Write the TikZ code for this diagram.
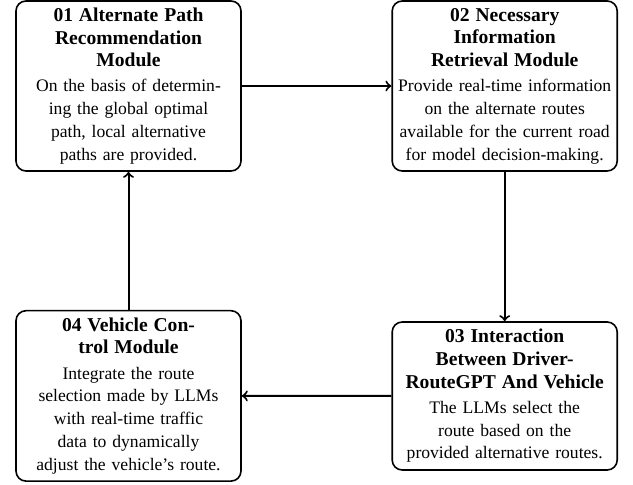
\documentclass[tikz,border=0pt]{standalone}
\usepackage{fontspec}
\setmainfont{Liberation Serif}
\newcommand{\bodysize}{\fontsize{8.8}{11.4}\selectfont}
\newcommand{\ttlsize}{\fontsize{9.8}{11.3}\selectfont\bfseries}
\begin{document}
\begin{tikzpicture}[x=0.5pt,y=-0.5pt,
  modbox/.style={draw, line width=0.8pt, rounded corners=5pt, align=center,
    text width=111pt, inner xsep=0.75pt, inner ysep=0pt, minimum width=112.5pt,
    font=\bodysize},
  flow/.style={->, line width=1pt}]
\useasboundingbox (0,0) rectangle (633,485);
\node[modbox, minimum height=85pt] (m1) at (128.5,86)
  {{\ttlsize 01 Alternate Path\\Recommendation\\Module\par}\vspace{1.2pt}
   On the basis of determin-\\ing the global optimal\\path, local alternative\\paths are provided.};
\node[modbox, minimum height=85pt] (m2) at (504.7,86)
  {{\ttlsize 02 Necessary\\Information\\Retrieval Module\par}\vspace{1.2pt}
   \mbox{Provide real-time information}\\on the alternate routes\\\mbox{available for the current road}\\\mbox{for model decision-making.}};
\node[modbox, minimum height=74pt] (m3) at (504.7,396)
  {{\ttlsize 03 Interaction\\Between Driver-\\\mbox{RouteGPT And Vehicle}\par}\vspace{1.2pt}
   The LLMs select the\\route based on the\\\mbox{provided alternative routes.}};
\node[modbox, minimum height=85.2pt] (m4) at (128.5,395.9)
  {{\ttlsize 04 Vehicle Con-\\trol Module\par}\vspace{1.2pt}
   Integrate the route\\selection made by LLMs\\with real-time traffic\\data to dynamically\\\mbox{adjust the vehicle's route.}};
\draw[flow] (m1) -- (m2);
\draw[flow] (m2) -- (m3);
\draw[flow] (m3) -- (m4);
\draw[flow] (m4) -- (m1);
\end{tikzpicture}
\end{document}
